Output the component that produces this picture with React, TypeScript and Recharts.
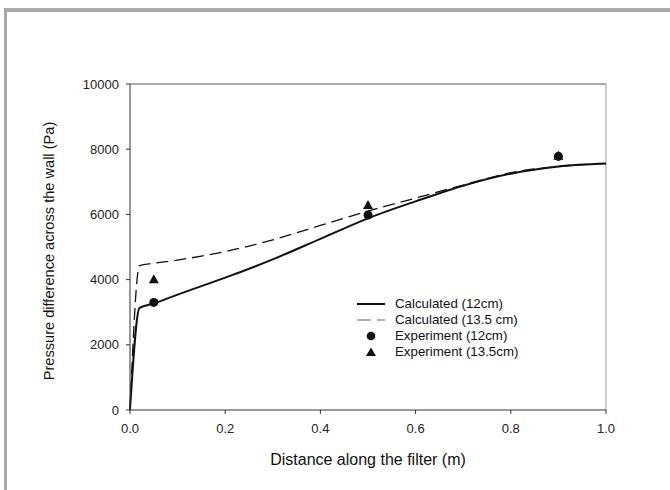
import {
  ComposedChart,
  Line,
  Scatter,
  XAxis,
  YAxis,
  ReferenceLine,
  Label,
} from 'recharts';

const FONT = '"Liberation Sans", Arial, sans-serif';
const INK = '#111';

const distance = [0, 0.02, 0.05, 0.1, 0.15, 0.2, 0.3, 0.4, 0.5, 0.6, 0.7, 0.8, 0.9, 1.0];
const calc12 = [0, 3130, 3270, 3540, 3800, 4060, 4620, 5250, 5880, 6400, 6880, 7250, 7470, 7560];
const calc135 = [0, 4430, 4500, 4600, 4720, 4860, 5220, 5660, 6100, 6500, 6900, 7280, 7470, 7560];

const expX = [0.05, 0.5, 0.9];
const exp12 = [3300, 5980, 7780];
const exp135 = [4010, 6290, 7800];

const xTicks = [0, 0.2, 0.4, 0.6, 0.8, 1.0];
const yTicks = [0, 2000, 4000, 6000, 8000, 10000];

const legendItems = [
  { label: 'Calculated (12cm)', kind: 'solid' },
  { label: 'Calculated (13.5 cm)', kind: 'dashed' },
  { label: 'Experiment (12cm)', kind: 'circle' },
  { label: 'Experiment (13.5cm)', kind: 'triangle' },
];

const lineRows = distance.map((x, i) => ({ x, calc12: calc12[i], calc135: calc135[i] }));
const exp12Rows = expX.map((x, i) => ({ x, y: exp12[i] }));
const exp135Rows = expX.map((x, i) => ({ x, y: exp135[i] }));

// smaller triangle than recharts' default symbol
const Triangle = (props: any) => {
  const { cx, cy } = props;
  return <polygon points={`${cx},${cy - 5} ${cx + 5},${cy + 4} ${cx - 5},${cy + 4}`} fill={INK} />;
};

function LegendIcon({ kind }: { kind: string }) {
  return (
    <svg width={30} height={14} style={{ display: 'block' }}>
      {kind === 'solid' && <line x1={1} y1={7} x2={29} y2={7} stroke={INK} strokeWidth={2} />}
      {kind === 'dashed' && (
        <line x1={1} y1={7} x2={29} y2={7} stroke="#666" strokeWidth={1.2} strokeDasharray="14 6" />
      )}
      {kind === 'circle' && <circle cx={15} cy={7} r={4.3} fill={INK} />}
      {kind === 'triangle' && <polygon points="15,2.5 20,11 10,11" fill={INK} />}
    </svg>
  );
}

function ChartLegend() {
  return (
    <div
      style={{
        position: 'absolute',
        left: 356,
        top: 296,
        fontFamily: FONT,
        fontSize: 13.3,
        color: '#111',
        lineHeight: '16px',
      }}
    >
      {legendItems.map((item) => (
        <div key={item.label} style={{ display: 'flex', alignItems: 'center', height: 16 }}>
          <LegendIcon kind={item.kind} />
          <span style={{ marginLeft: 9, whiteSpace: 'nowrap' }}>{item.label}</span>
        </div>
      ))}
    </div>
  );
}

export default function App() {
  return (
    <div style={{ position: 'absolute', left: 0, top: 0, width: 670, height: 490, background: '#fff', overflow: 'hidden' }}>
      <div
        style={{
          position: 'absolute',
          left: 4,
          top: 8,
          width: 700,
          height: 500,
          borderTop: '4px solid #a9a9ad',
          borderLeft: '3px solid #a9a9ad',
        }}
      />
      <div style={{ position: 'absolute', left: 0, top: 0 }}>
        <ComposedChart
          width={670}
          height={490}
          data={lineRows}
          margin={{ top: 84, right: 64, left: 70, bottom: 40 }}
        >
          <XAxis
            dataKey="x"
            type="number"
            domain={[0, 1]}
            ticks={xTicks}
            tickFormatter={(v: number) => v.toFixed(1)}
            height={40}
            stroke="#333"
            tickSize={4}
            tick={{ fill: '#222', fontSize: 13, fontFamily: FONT }}
            tickMargin={10}
          >
            <Label
              content={() => (
                <text x={368} y={465} textAnchor="middle" fill="#111" fontSize={16} fontFamily={FONT}>
                  Distance along the filter (m)
                </text>
              )}
            />
          </XAxis>
          <YAxis
            type="number"
            domain={[0, 10000]}
            ticks={yTicks}
            width={60}
            stroke="#333"
            tickSize={4}
            tick={{ fill: '#222', fontSize: 13, fontFamily: FONT }}
            tickMargin={7}
          >
            <Label
              content={() => (
                <text
                  transform="translate(54,251) rotate(-90)"
                  textAnchor="middle"
                  fill="#111"
                  fontSize={14.6}
                  fontFamily={FONT}
                >
                  Pressure difference across the wall (Pa)
                </text>
              )}
            />
          </YAxis>
          <ReferenceLine y={10000} stroke="#555" />
          <ReferenceLine x={1} stroke="#999" />
          <Line
            dataKey="calc12"
            type="monotone"
            stroke={INK}
            strokeWidth={2}
            dot={false}
            isAnimationActive={false}
          />
          <Line
            dataKey="calc135"
            type="monotone"
            stroke={INK}
            strokeWidth={1.3}
            strokeDasharray="12 6"
            dot={false}
            isAnimationActive={false}
          />
          <Scatter data={exp135Rows} dataKey="y" shape={Triangle} fill={INK} isAnimationActive={false} />
          <Scatter data={exp12Rows} dataKey="y" shape="circle" fill={INK} isAnimationActive={false} />
        </ComposedChart>
      </div>
      <ChartLegend />
    </div>
  );
}
